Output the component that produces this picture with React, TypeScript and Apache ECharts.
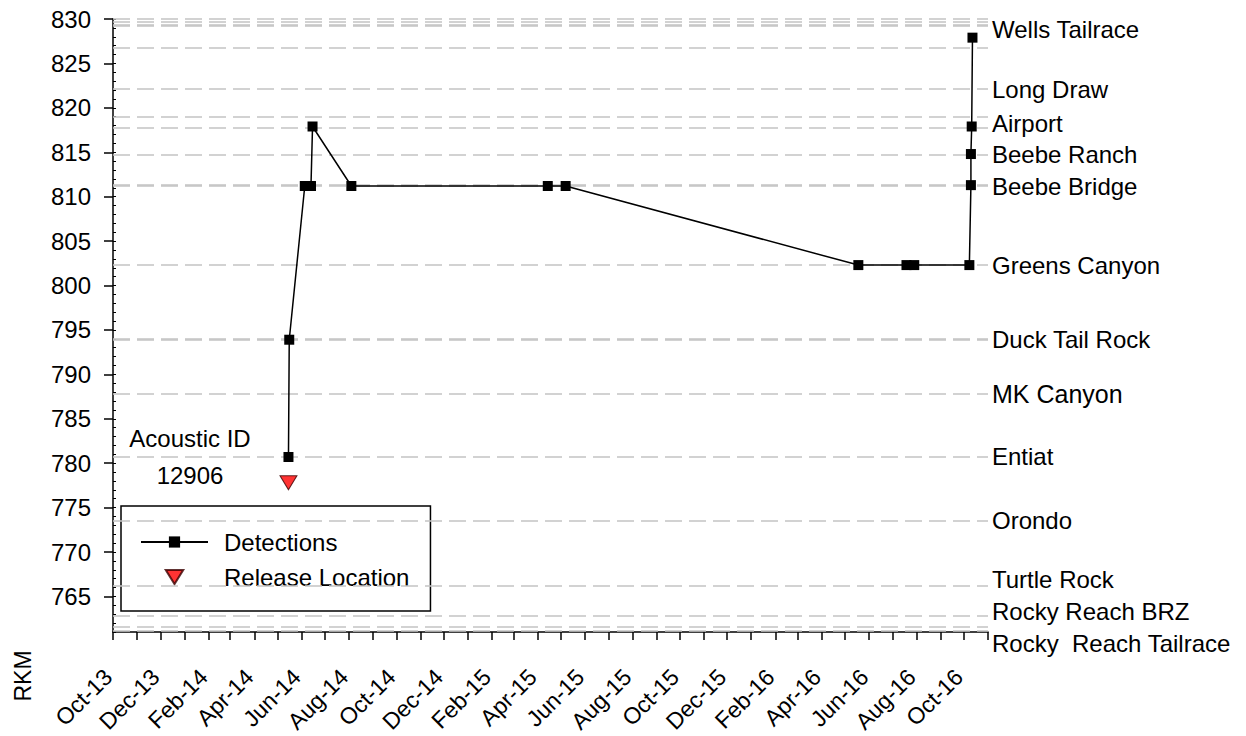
import React, { useEffect, useRef } from 'react';
import * as echarts from 'echarts';

const FONT = "'Liberation Sans', Arial, Helvetica, sans-serif";

// ---- data ----
const detectionDates = [
  '2014-05-15', '2014-05-16', '2014-06-05', '2014-06-13', '2014-06-15', '2014-08-04',
  '2015-04-14', '2015-05-07',
  '2016-05-18', '2016-07-19', '2016-07-29', '2016-10-08', '2016-10-10', '2016-10-10',
  '2016-10-11', '2016-10-12',
];
const detectionRkm = [
  780.7, 793.9, 811.2, 811.2, 817.9, 811.2,
  811.2, 811.2,
  802.3, 802.3, 802.3, 802.3, 811.3, 814.8,
  817.9, 827.9,
];
const releaseDates = ['2014-05-15'];
const releaseRkm = [777.8];

const siteNames = [
  'Wells Tailrace', 'Long Draw', 'Airport', 'Beebe Ranch', 'Beebe Bridge', 'Greens Canyon',
  'Duck Tail Rock', 'MK Canyon', 'Entiat', 'Orondo', 'Turtle Rock', 'Rocky Reach BRZ',
  'Rocky  Reach Tailrace',
];
const siteRkm = [829.2, 822.1, 817.8, 814.7, 811.2, 802.3, 793.9, 787.8, 780.7, 773.5, 766.2, 762.8, 761.1];
// additional receiver lines without a label
const extraLineRkm = [830, 829.7, 829.4, 826.8, 819.0, 811.35, 794.05, 761.6];

const yTickLabels = ['765', '770', '775', '780', '785', '790', '795', '800', '805', '810', '815', '820', '825', '830'];
const xTickLabels = [
  'Oct-13', 'Dec-13', 'Feb-14', 'Apr-14', 'Jun-14', 'Aug-14', 'Oct-14', 'Dec-14', 'Feb-15', 'Apr-15',
  'Jun-15', 'Aug-15', 'Oct-15', 'Dec-15', 'Feb-16', 'Apr-16', 'Jun-16', 'Aug-16', 'Oct-16',
];
const xStart = '2013-10-01';
const xEnd = '2016-11-01';
const yMin = 761;
const yMax = 830;

// ---- helpers ----
const MONTHS = ['Jan', 'Feb', 'Mar', 'Apr', 'May', 'Jun', 'Jul', 'Aug', 'Sep', 'Oct', 'Nov', 'Dec'];
const toTs = (s: string) => {
  const [y, m, d] = s.split('-').map(Number);
  return Date.UTC(y, m - 1, d);
};
const labelToTs = (l: string) => {
  const [mon, yy] = l.split('-');
  return Date.UTC(2000 + Number(yy), MONTHS.indexOf(mon), 1);
};
const fmtTs = (v: number) => {
  const d = new Date(v);
  return MONTHS[d.getUTCMonth()] + '-' + String(d.getUTCFullYear() % 100).padStart(2, '0');
};

// label vertical shifts (px) for site names, styling only
const labelShift: Record<string, number> = {
  'Wells Tailrace': 3,
  'Airport': -4,
  'Turtle Rock': -6,
  'Rocky Reach BRZ': -5,
  'Rocky  Reach Tailrace': 12,
};

const textStyle = (text: string, size = 24) => ({
  text,
  fontSize: size,
  fontFamily: FONT,
  fill: '#000',
  align: 'center',
  verticalAlign: 'middle',
  textAlign: 'center',
  textVerticalAlign: 'middle',
});

export default function App() {
  const ref = useRef<HTMLDivElement>(null);

  useEffect(() => {
    document.body.style.margin = '0';
    if (!ref.current) return;
    const chart = echarts.init(ref.current, undefined, { renderer: 'svg' });

    const xMin = toTs(xStart);
    const xMax = toTs(xEnd);
    const monthTicks: number[] = [];
    {
      const d0 = new Date(xMin);
      let y = d0.getUTCFullYear();
      let m = d0.getUTCMonth();
      while (Date.UTC(y, m, 1) <= xMax) {
        monthTicks.push(Date.UTC(y, m, 1));
        m++;
        if (m > 11) { m = 0; y++; }
      }
    }
    const xLabelValues = xTickLabels.map(labelToTs);
    const yLabelValues = yTickLabels.map(Number);

    const lineStyleDash = { color: '#c4c4c4', type: [17, 7] as number[], width: 1.5 };

    const markData: any[] = [...siteRkm, ...extraLineRkm].map((v) => ({
      yAxis: v,
      label: { show: false },
    }));

    const baseGraphic: any[] = [
      { type: 'text', x: 190, y: 438, style: textStyle('Acoustic ID') },
      { type: 'text', x: 190, y: 475, style: textStyle('12906') },
      { type: 'text', x: 23, y: 676, rotation: Math.PI / 2, style: textStyle('RKM', 23) },
    ];

    const option: any = {
      animation: false,
      backgroundColor: '#fff',
      textStyle: { fontFamily: FONT },
      grid: { left: 113, right: 258, top: 19, bottom: 104, outerBoundsMode: 'none', containLabel: false },
      xAxis: {
        type: 'value',
        min: xMin,
        max: xMax,
        axisLine: { show: true, onZero: false, lineStyle: { color: '#000', width: 1.5 } },
        axisTick: {
          show: true,
          customValues: monthTicks,
          length: 8,
          lineStyle: { color: '#000', width: 1.5 },
        },
        axisLabel: {
          customValues: xLabelValues,
          formatter: (v: number) => fmtTs(v),
          rotate: 45,
          margin: 36,
          padding: [0, 7, 0, 0],
          color: '#000',
          fontFamily: FONT,
          fontSize: 23,
          showMinLabel: true,
          showMaxLabel: true,
        },
        splitLine: { show: false },
      },
      yAxis: [
        {
          type: 'value',
          min: yMin,
          max: yMax,
          position: 'left',
          axisLine: { show: true, onZero: false, lineStyle: { color: '#000', width: 1.5 } },
          axisTick: {
            show: true,
            customValues: yLabelValues,
            length: 9,
            lineStyle: { color: '#000', width: 1.5 },
          },
          axisLabel: {
            customValues: yLabelValues,
            margin: 22,
            color: '#000',
            fontFamily: FONT,
            fontSize: 24,
          },
          splitLine: { show: false },
        },
        {
          type: 'value',
          min: yMin,
          max: yMax,
          interval: 1,
          position: 'left',
          axisLine: { show: false },
          axisTick: { show: true, inside: true, length: 3, lineStyle: { color: '#000', width: 1 } },
          axisLabel: { show: false },
          splitLine: { show: false },
        },
      ],
      legend: {
        data: [
          { name: 'Detections' },
          { name: 'Release Location', icon: 'path://M0,0L20,0L10,16Z' },
        ],
        left: 121,
        top: 506,
        orient: 'vertical',
        itemWidth: 67,
        itemHeight: 14,
        itemGap: 11,
        padding: [24, 21, 22, 19],
        borderColor: '#000',
        borderWidth: 1.5,
        borderRadius: 0,
        backgroundColor: '#fff',
        selectedMode: false,
        symbolKeepAspect: true,
        textStyle: { fontSize: 24, color: '#000', fontFamily: FONT, padding: [0, 0, 0, 11] },
      },
      graphic: baseGraphic,
      series: [
        {
          name: 'Sites',
          type: 'line',
          data: [],
          z: 1,
          silent: true,
          markLine: {
            silent: true,
            symbol: ['none', 'none'],
            animation: false,
            lineStyle: lineStyleDash,
            emphasis: { disabled: true },
            data: markData,
          },
        },
        {
          name: 'Detections',
          type: 'line',
          z: 5,
          data: detectionDates.map((d, i) => [toTs(d), detectionRkm[i]]),
          symbol: 'rect',
          symbolSize: 10,
          showAllSymbol: true,
          itemStyle: { color: '#000' },
          lineStyle: { color: '#000', width: 1.5 },
        },
        {
          name: 'Release Location',
          type: 'scatter',
          z: 6,
          data: releaseDates.map((d, i) => [toTs(d), releaseRkm[i]]),
          symbol: 'triangle',
          symbolRotate: 180,
          symbolSize: [17, 14],
          itemStyle: { color: '#ff0000', borderColor: '#3a0000', borderWidth: 1 },
        },
      ],
    };

    chart.setOption(option);

    // site names placed through the chart's own scales, at the right end of each receiver line
    const xRight = chart.convertToPixel({ xAxisIndex: 0 }, xMax) as number;
    const siteTexts = siteNames.map((n, i) => {
      const y = (chart.convertToPixel({ yAxisIndex: 0 }, siteRkm[i]) as number) + (labelShift[n] || 0);
      return {
        type: 'text',
        x: xRight + 4,
        y,
        style: {
          text: n,
          fontSize: n === 'MK Canyon' ? 25 : 24,
          fontFamily: FONT,
          fill: '#000',
          align: 'left',
          verticalAlign: 'middle',
          textAlign: 'left',
          textVerticalAlign: 'middle',
        },
      };
    });
    chart.setOption({ graphic: [...baseGraphic, ...siteTexts] });

    return () => chart.dispose();
  }, []);

  return <div ref={ref} style={{ width: 1246, height: 736 }} />;
}
